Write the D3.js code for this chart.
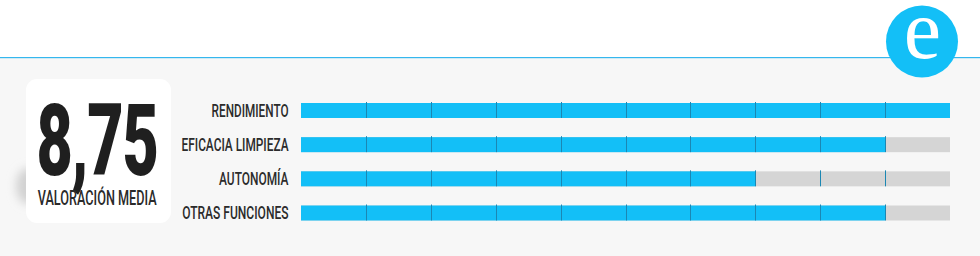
<!DOCTYPE html>
<html>
<head>
<meta charset="utf-8">
<script src="https://cdn.jsdelivr.net/npm/d3@7"></script>
<style>
  html, body { margin: 0; padding: 0; background: #fff; }
  svg { display: block; }
</style>
</head>
<body>
<svg id="chart" width="980" height="256"></svg>
<script>
const categories = ["RENDIMIENTO", "EFICACIA LIMPIEZA", "AUTONOMÍA", "OTRAS FUNCIONES"];
const scores = [10, 9, 7, 9];
const maxScore = 10;
const averageLabel = "8,75";
const averageCaption = "VALORACIÓN MEDIA";
const logoLetter = "e";

const width = 980, height = 256;
const blue = "#13bff7", grey = "#d5d5d5", tickBlue = "#1b87b3";

const svg = d3.select("#chart");

// header + grey panel
svg.append("rect").attr("width", width).attr("height", height).attr("fill", "#fff");
svg.append("rect").attr("y", 57).attr("width", width).attr("height", height - 57).attr("fill", "#f7f7f7");
svg.append("rect").attr("x", 0).attr("y", 57).attr("width", width).attr("height", 1.2)
  .attr("fill", "#35b7ee");

// logo
svg.append("circle").attr("cx", 922).attr("cy", 41.5).attr("r", 36).attr("fill", blue);
svg.append("text").attr("x", 922.5).attr("y", 57.5).attr("text-anchor", "middle")
  .attr("font-family", "'Liberation Serif', 'Times New Roman', Times, serif")
  .attr("font-weight", 400).attr("font-size", 84).attr("fill", "#fff").text(logoLetter);

// card with soft shadow
const defs = svg.append("defs");
defs.append("filter").attr("id", "blur").attr("x", "-50%").attr("y", "-50%").attr("width", "200%").attr("height", "200%")
  .append("feGaussianBlur").attr("stdDeviation", 5);
svg.append("ellipse").attr("cx", 28).attr("cy", 186).attr("rx", 12).attr("ry", 18)
  .attr("fill", "#d2d2d2").attr("filter", "url(#blur)");
svg.append("rect").attr("x", 26).attr("y", 79).attr("width", 145).attr("height", 144)
  .attr("rx", 11).attr("fill", "#fff");

// squeeze a text node horizontally so it reads as a condensed face
function condense(sel, x, targetWidth, anchor) {
  const w = sel.node().getComputedTextLength();
  const k = targetWidth / w;
  sel.attr("x", 0).attr("text-anchor", anchor)
    .attr("transform", `translate(${x},0) scale(${k},1)`);
}

const big = svg.append("text").attr("y", 175)
  .attr("font-family", "Roboto, 'Liberation Sans', sans-serif").attr("font-weight", 900)
  .attr("font-size", 101).attr("letter-spacing", -2).attr("fill", "#1f1f1f").text(averageLabel);
condense(big, 97, 121, "middle");

const cap = svg.append("text").attr("y", 205)
  .attr("font-family", "Roboto, 'Liberation Sans', sans-serif").attr("font-weight", 500)
  .attr("font-size", 19.5).attr("fill", "#2a2a2a").text(averageCaption);
condense(cap, 97.2, 119, "middle");

// bars
const x = d3.scaleLinear().domain([0, maxScore]).range([301, 950]);
const y = d3.scalePoint().domain(categories).range([110.5, 213]);
const barH = 15;

const rows = svg.append("g").selectAll("g").data(categories).join("g")
  .attr("transform", d => `translate(0,${y(d) - barH / 2})`);

rows.append("rect").attr("x", x(0)).attr("width", x(maxScore) - x(0)).attr("height", barH).attr("fill", grey);
rows.append("rect").attr("x", x(0)).attr("width", (d, i) => x(scores[i]) - x(0)).attr("height", barH).attr("fill", blue);

const ticks = x.ticks(maxScore).filter(t => t > 0 && t < maxScore);
rows.selectAll("line").data(ticks).join("line")
  .attr("x1", t => Math.round(x(t)) + 0.5).attr("x2", t => Math.round(x(t)) + 0.5)
  .attr("y1", -1).attr("y2", barH)
  .attr("stroke", tickBlue).attr("stroke-width", 1);

// category labels
const labelWidths = { "RENDIMIENTO": 77, "EFICACIA LIMPIEZA": 107, "AUTONOMÍA": 69.5, "OTRAS FUNCIONES": 106.5 };
rows.append("text").attr("y", barH - 1.5)
  .attr("font-family", "Roboto, 'Liberation Sans', sans-serif").attr("font-weight", 500)
  .attr("font-size", 18).attr("fill", "#2b2b2b").text(d => d)
  .each(function(d) { condense(d3.select(this), 288.5, labelWidths[d], "end"); });
</script>
</body>
</html>
